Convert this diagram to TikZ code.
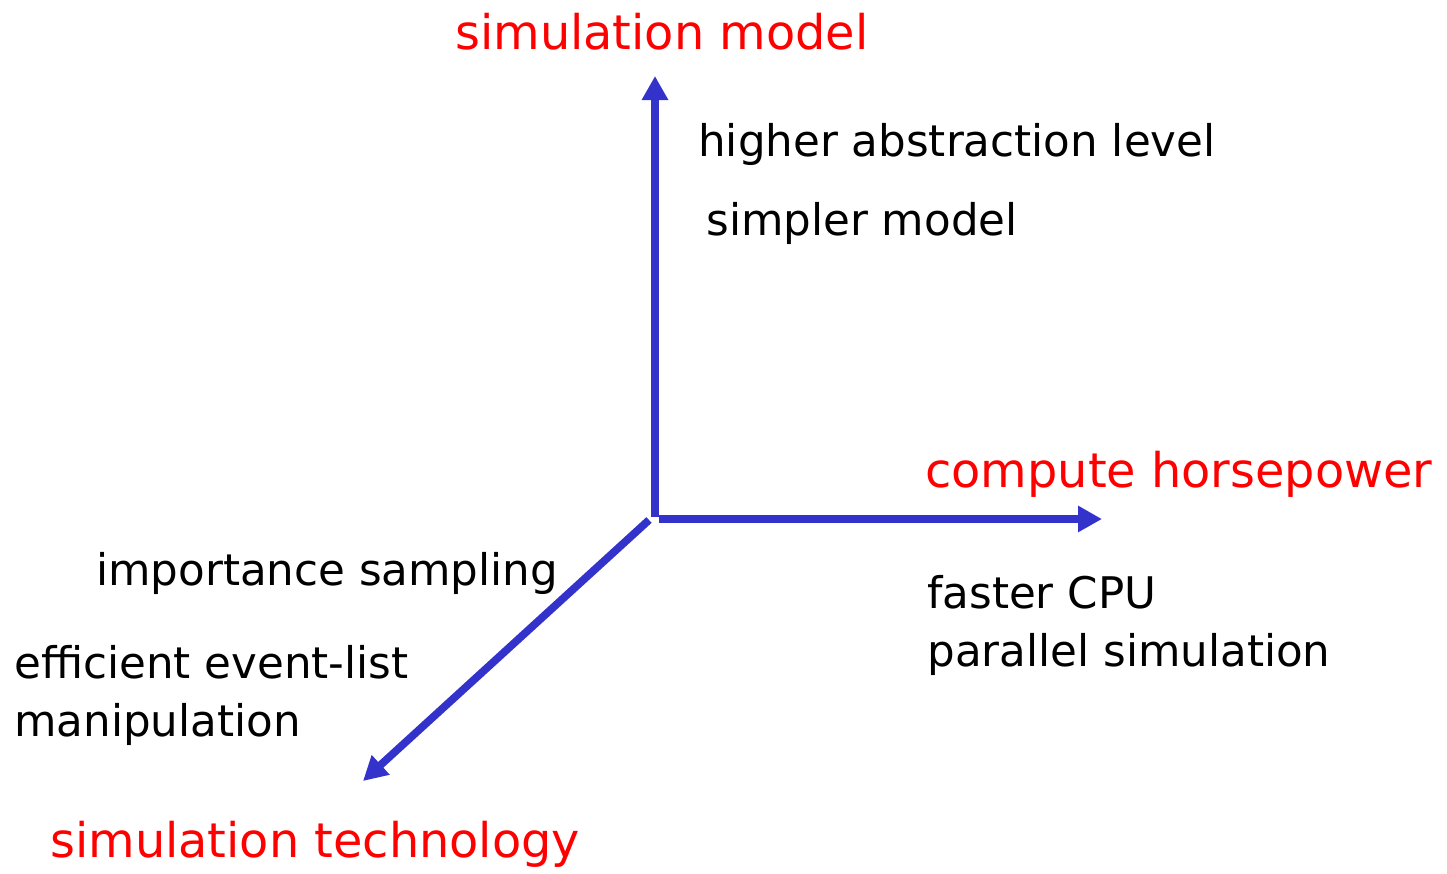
\documentclass[tikz,border=0pt]{standalone}
\usepackage{fontspec}
\setmainfont{DejaVu Sans}
\usetikzlibrary{arrows.meta}
\definecolor{axisblue}{HTML}{3333CC}
\definecolor{axisred}{HTML}{FF0000}
\begin{document}
\begin{tikzpicture}[x=0.02cm,y=-0.02cm,
  axis/.style={draw=axisblue,line width=0.155cm,-{Triangle[length=0.48cm,width=0.5cm]}},
  title/.style={text=axisred,font=\fontsize{27.2}{32}\selectfont,inner sep=0pt,anchor=base west},
  note/.style={text=black,font=\fontsize{24.8}{29}\selectfont,inner sep=0pt,anchor=base west}]
\useasboundingbox (0,0) rectangle (1447,873);
% axes
\coordinate (up) at (655,76);
\coordinate (right) at (1102,519);
\coordinate (down) at (363,781);
\coordinate (ostart1) at (655,517);
\coordinate (ostart2) at (659,519);
\coordinate (ostart3) at (649,520);
\draw[axis] (ostart1) -- (up);
\draw[axis] (ostart2) -- (right);
\draw[axis] (ostart3) -- (down);
% axis titles
\node[title] (tmodel) at (455,49) {simulation model};
\node[title] (tcompute) at (925,487) {compute horsepower};
\node[title] (ttech) at (50,857) {simulation technology};
% annotations
\node[note] (n1) at (698,156) {higher abstraction level};
\node[note] (n2) at (706,235) {simpler model};
\node[note] (n3) at (927,608) {faster CPU};
\node[note] (n4) at (927,666) {parallel simulation};
\node[note] (n5) at (96,585) {importance sampling};
\node[note] (n6) at (14,678) {efficient event-list};
\node[note] (n7) at (14,736) {manipulation};
\end{tikzpicture}
\end{document}
